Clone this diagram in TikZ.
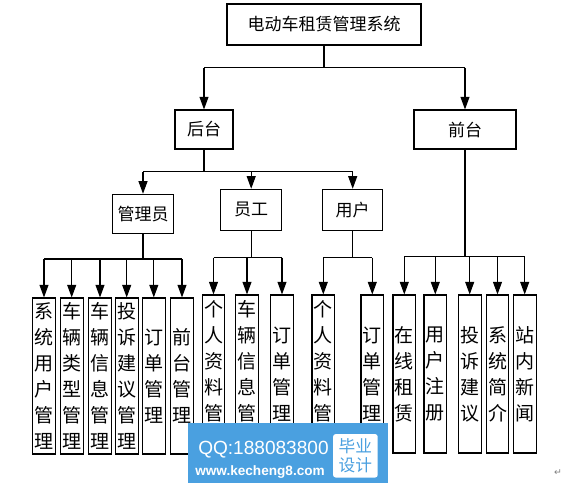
\documentclass[tikz,border=0pt]{standalone}
\usepackage{fontspec}
\newfontfamily\cjk{Noto Sans CJK SC}
\newfontfamily\wm{Liberation Sans}
\newfontfamily\sym{DejaVu Sans}
\usetikzlibrary{arrows.meta}
\definecolor{wmblue}{RGB}{74,160,224}
\begin{document}
\begin{tikzpicture}[x=0.75pt,y=-0.75pt,
 box/.style={draw, line width=0.8pt, inner sep=0pt, font=\cjk\fontsize{12.75pt}{15pt}\selectfont},
 leaf/.style={draw, line width=0.8pt, inner sep=0pt, minimum width=17pt, align=center, font=\cjk\fontsize{14.25pt}{19.5pt}\selectfont},
 leafa/.style={leaf, minimum height=117pt},
 leafb/.style={leaf, minimum height=118.5pt},
 ln/.style={line width=0.8pt},
 arr/.style={line width=0.8pt, -{Triangle[length=9.5pt,width=6.75pt]}}]
\useasboundingbox (0,0) rectangle (576,489);
\fill[white] (0,0) rectangle (576,489);

\node[box, minimum width=145.5pt, minimum height=30.75pt] (top) at (324,24.5) {电动车租赁管理系统};
\node[box, minimum width=43.5pt, minimum height=29.25pt] (hou) at (204,129.5) {后台};
\node[box, minimum width=76.5pt, minimum height=29.25pt] (qian) at (465,129.5) {前台};
\node[box, minimum width=45.5pt, minimum height=29.25pt] (gly) at (143,213.8) {管理员};
\node[box, minimum width=45.75pt, minimum height=30.75pt] (yg) at (251.2,209.8) {员工};
\node[box, minimum width=45.3pt, minimum height=30.75pt] (yh) at (352.7,209.8) {用户};

\node[leafa] (a1) at (44,376) {系\\统\\用\\户\\管\\理};
\node[leafa] (a2) at (71.7,376) {车\\辆\\类\\型\\管\\理};
\node[leafa] (a3) at (100,376) {车\\辆\\信\\息\\管\\理};
\node[leafa] (a4) at (126.7,376) {投\\诉\\建\\议\\管\\理};
\node[leafa] (a5) at (153.8,376) {订\\单\\管\\理};
\node[leafa] (a6) at (182,376) {前\\台\\管\\理};

\node[leafb] (e1) at (213.5,374) {个\\人\\资\\料\\管\\理};
\node[leafb] (e2) at (247,374) {车\\辆\\信\\息\\管\\理};
\node[leafb] (e3) at (282,374) {订\\单\\管\\理};
\node[leafb] (u1) at (323.3,374) {个\\人\\资\\料\\管\\理};
\node[leafb] (u2) at (372.3,374) {订\\单\\管\\理};

\node[leafb] (f1) at (404.3,374) {在\\线\\租\\赁};
\node[leafb] (f2) at (435.3,374) {用\\户\\注\\册};
\node[leafb] (f3) at (469.7,374) {投\\诉\\建\\议};
\node[leafb] (f4) at (497.5,374) {系\\统\\简\\介};
\node[leafb] (f5) at (524.7,374) {站\\内\\新\\闻};

\coordinate (bus0) at (0,67.7);
\coordinate (bus1) at (0,171.7);
\coordinate (bus2) at (0,259);
\coordinate (bus3) at (0,257.7);
\coordinate (bus4) at (0,256.7);

% top level
\draw[ln] (top.south) -- (top.south |- bus0);
\draw[ln] (hou.north |- bus0) -- (qian.north |- bus0);
\foreach \c in {hou,qian} \draw[arr] (\c.north |- bus0) -- (\c.north);
% 后台
\draw[ln] (hou.south) -- (hou.south |- bus1);
\draw[ln] (gly.north |- bus1) -- (yh.north |- bus1);
\foreach \c in {gly,yg,yh} \draw[arr] (\c.north |- bus1) -- (\c.north);
% 管理员
\draw[ln] (gly.south) -- (gly.south |- bus2);
\draw[ln] (a1.north |- bus2) -- (a6.north |- bus2);
\foreach \c in {a1,a2,a3,a4,a5,a6} \draw[arr] (\c.north |- bus2) -- (\c.north);
% 员工
\draw[ln] (yg.south) -- (yg.south |- bus3);
\draw[ln] (e1.north |- bus3) -- (e3.north |- bus3);
\foreach \c in {e1,e2,e3} \draw[arr] (\c.north |- bus3) -- (\c.north);
% 用户
\draw[ln] (yh.south) -- (yh.south |- bus3);
\draw[ln] (u1.north |- bus3) -- (u2.north |- bus3);
\foreach \c in {u1,u2} \draw[arr] (\c.north |- bus3) -- (\c.north);
% 前台
\draw[ln] (qian.south) -- (qian.south |- bus4);
\draw[ln] (f1.north |- bus4) -- (f5.north |- bus4);
\foreach \c in {f1,f2,f3,f4,f5} \draw[arr] (\c.north |- bus4) -- (\c.north);

% watermark
\fill[wmblue] (188.3,422.7) rectangle (387.7,483.3);
\node[anchor=base west, text=white, font=\wm\fontsize{14.3pt}{16pt}\selectfont, inner sep=0pt] (qq) at (198,454) {QQ:188083800};
\node[anchor=base west, text=white, font=\wm\bfseries\fontsize{10.2pt}{12pt}\selectfont, inner sep=0pt] (web) at (195,475) {www.kecheng8.com};
\node[fill=white, rounded corners=2pt, minimum width=33.5pt, minimum height=32.6pt, inner sep=0pt] (wb) at (355.4,455.8) {};
\node[text=wmblue, font=\cjk\fontsize{12.5pt}{14.5pt}\selectfont, align=center, inner sep=0pt] (wbt) at (wb) {毕业\\设计};
\node[text=gray, font=\sym\fontsize{7pt}{8pt}\selectfont] (ret) at (558,473) {↵};
\end{tikzpicture}
\end{document}
